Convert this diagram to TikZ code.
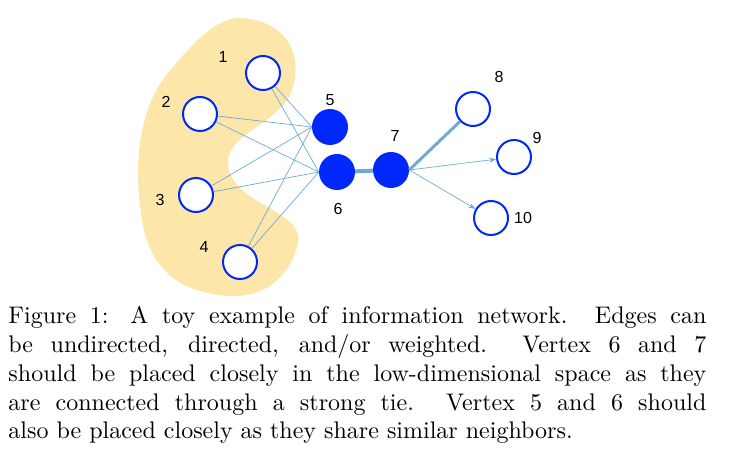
\documentclass[tikz,border=0pt]{standalone}
\usepackage{tikz}
\usepackage{fontspec}
\newfontfamily\labelfont{Liberation Sans}
\usetikzlibrary{arrows.meta}
\definecolor{blob}{RGB}{253,230,170}
\definecolor{vblue}{RGB}{0,40,250}
\definecolor{eblue}{RGB}{110,170,215}
\begin{document}
\begin{tikzpicture}[x=1pt,y=-1pt]
	\tikzstyle{open} = [circle, draw=vblue, line width=2pt, fill=white, minimum size=34pt, inner sep=0pt]
	\tikzstyle{full} = [circle, fill=vblue, minimum size=36pt, inner sep=0pt]
	\tikzstyle{lbl} = [font=\labelfont\fontsize{16}{16}\selectfont]
	\tikzstyle{edge} = [eblue, line width=0.7pt]
	\tikzstyle{arrow} = [edge, -{Stealth[length=7pt,width=5pt]}]
	\useasboundingbox (0,0) rectangle (738,465);
	\fill[blob] (240,18) .. controls (290,20) and (305,60) .. (290,95)
		.. controls (275,125) and (225,135) .. (228,165)
		.. controls (232,205) and (305,210) .. (298,243)
		.. controls (290,280) and (260,298) .. (230,296)
		.. controls (180,293) and (150,270) .. (142,220)
		.. controls (132,160) and (140,100) .. (175,65)
		.. controls (200,35) and (220,18) .. (240,18);
	% vertices
	\node (v1) [open] at (263,73) {};
	\node (v2) [open] at (200,114) {};
	\node (v3) [open] at (196,195) {};
	\node (v4) [open] at (240,262) {};
	\node (v8) [open] at (473,109) {};
	\node (v9) [open] at (514,157) {};
	\node (v10) [open] at (491,218) {};
	\node (v5) [full] at (330,127) {};
	\node (v6) [full] at (337,172) {};
	\node (v7) [full] at (391,170) {};
	% labels
	\node [lbl] at (223,57) {1};
	\node [lbl] at (166,102) {2};
	\node [lbl] at (160,200) {3};
	\node [lbl] at (204,247) {4};
	\node [lbl] at (330,100) {5};
	\node [lbl] at (338,209) {6};
	\node [lbl] at (395,136) {7};
	\node [lbl] at (499,77) {8};
	\node [lbl] at (537,138) {9};
	\node [lbl] at (523,218) {10};
	% edges
	\foreach \s in {v1,v2,v3,v4}
		\foreach \t in {v5,v6}
			\draw [edge] (\s) -- (\t.west);
	\draw [eblue, line width=4pt] (v6) -- (v7);
	\draw [eblue, line width=3pt] (v7.east) -- (v8);
	\draw [arrow] (v7.east) -- (v9);
	\draw [arrow] (v7.east) -- (v10);
	% caption
	\node [anchor=north west, inner sep=0pt, text width=290.8pt, align=justify,
		font=\normalsize, scale=2.4, transform shape] (caption) at (8,306)
		{Figure 1: A toy example of information network. Edges can\linebreak
		be undirected, directed, and/or weighted.\ \ Vertex 6 and 7\linebreak
		should be placed closely in the low-dimensional space as they\linebreak
		are connected through a strong tie. Vertex 5 and 6 should\linebreak
		also be placed closely as they share similar neighbors.};
\end{tikzpicture}
\end{document}
